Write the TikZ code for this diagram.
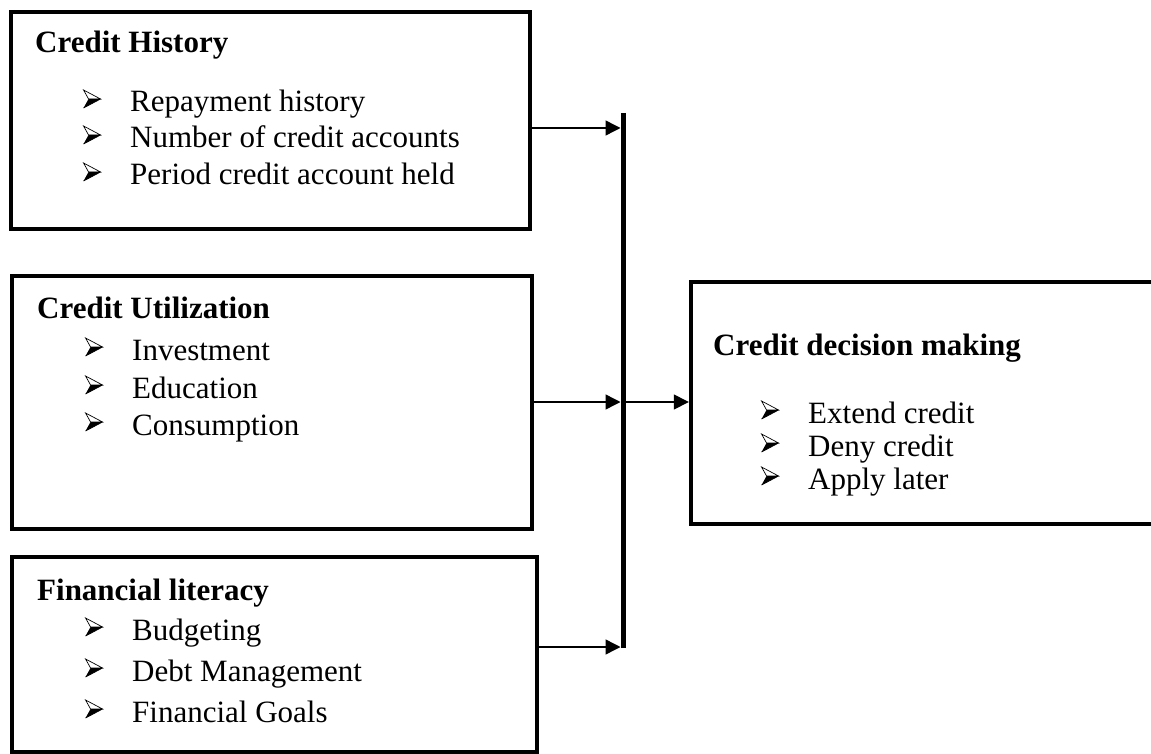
\documentclass[tikz,border=0pt]{standalone}
\usepackage{fontspec}
\setmainfont{Liberation Serif}
\usetikzlibrary{arrows.meta}
% 3D arrowhead bullet, upper half open, lower half filled
\newcommand{\pnt}{\makebox[47pt][l]{\tikz[baseline=0pt,x=1pt,y=1pt,line join=miter]{
    \fill (0,4) -- (17,13) -- (5,13) -- cycle;
    \draw[line width=0.7pt] (0,22) -- (17,13) -- (5,13) -- cycle;
    \draw[line width=0.7pt] (0,4) -- (17,13);}}}

\begin{document}
\begin{tikzpicture}[
            x=1pt,
            y=-1pt,
            box/.style={
                draw,
                rectangle,
                line width=4.5pt,
                inner sep=0pt,
                outer sep=0pt,
                anchor=north west
            },
            head/.style={
                anchor=base west,
                inner sep=0pt,
                font=\fontsize{31}{31}\selectfont\bfseries
            },
            item/.style={
                anchor=base west,
                inner sep=0pt,
                font=\fontsize{31}{31}\selectfont
            },
            link/.style={
                line width=1.4pt,
                -{Triangle[length=15pt,width=15pt]}
            }
        ]
            \clip (0,0) rectangle (1151,754);

            % Boxes
            \node[box, minimum width=519pt, minimum height=217pt] (hist) at (11,12) {};
            \node[box, minimum width=520pt, minimum height=253pt] (util) at (12,276) {};
            \node[box, minimum width=525pt, minimum height=195pt] (lit) at (12,557) {};
            \node[box, minimum width=480pt, minimum height=242pt] (dec) at (691,282) {};

            % Credit History
            \node[head] (histT) at (35,53) {Credit History};
            \node[item] (h1) at (83,112) {\pnt Repayment history};
            \node[item] (h2) at (83,148) {\pnt Number of credit accounts};
            \node[item] (h3) at (83,185) {\pnt Period credit account held};

            % Credit Utilization
            \node[head] (utilT) at (37,318) {Credit Utilization};
            \node[item] (u1) at (85,360) {\pnt Investment};
            \node[item] (u2) at (85,398) {\pnt Education};
            \node[item] (u3) at (85,435) {\pnt Consumption};

            % Financial literacy
            \node[head] (litT) at (37,600) {Financial literacy};
            \node[item] (l1) at (85,640) {\pnt Budgeting};
            \node[item] (l2) at (85,681) {\pnt Debt Management};
            \node[item] (l3) at (85,722) {\pnt Financial Goals};

            % Credit decision making
            \node[head] (decT) at (713,355) {Credit decision making};
            \node[item] (d1) at (761,423) {\pnt Extend credit};
            \node[item] (d2) at (761,456) {\pnt Deny credit};
            \node[item] (d3) at (761,489) {\pnt Apply later};

            % Collecting bar
            \coordinate (bt) at (623,113);
            \coordinate (bb) at (623,648);
            \draw[line width=5pt] (bt) -- (bb);

            % Arrows
            \coordinate (a1) at (623,128);
            \coordinate (a2) at (623,402);
            \coordinate (a3) at (623,647);
            \draw[link, shorten >=2.5pt] (a1 -| hist.east) -- (a1);
            \draw[link, shorten >=2.5pt] (a2 -| util.east) -- (a2);
            \draw[link, shorten >=2.5pt] (a3 -| lit.east) -- (a3);
            \draw[link, shorten >=2.2pt] (a2) -- (a2 -| dec.west);

        \end{tikzpicture}
\end{document}
